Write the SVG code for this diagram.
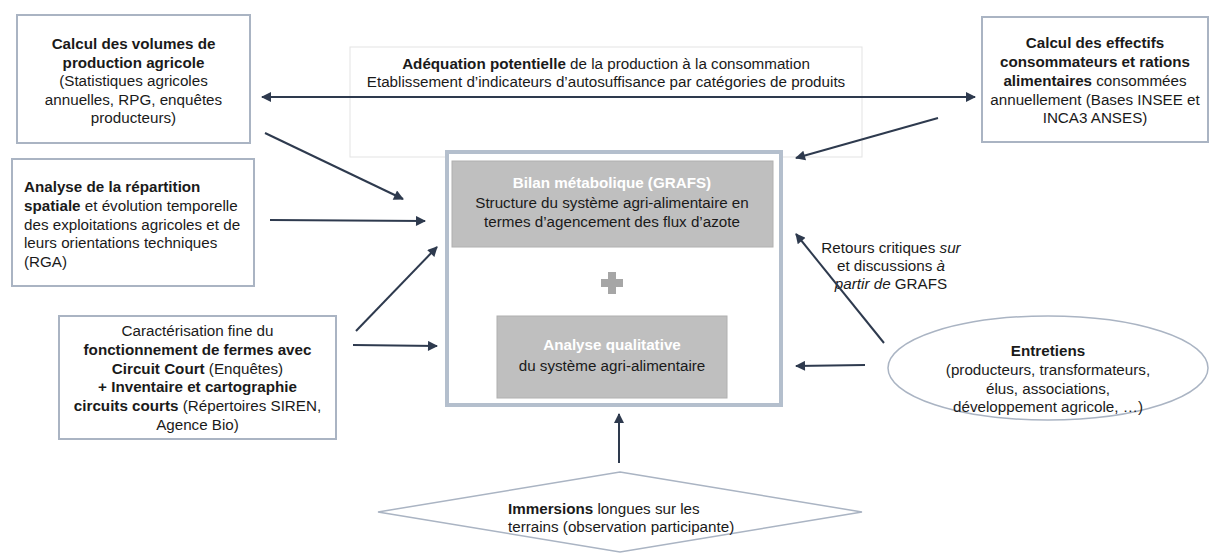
<svg xmlns="http://www.w3.org/2000/svg" width="1210" height="556" viewBox="0 0 1210 556">
<style>
text{font-family:"Liberation Sans",Arial,sans-serif;font-size:15.2px;fill:#1a1a1a}
.b{font-weight:bold}
.c{text-anchor:middle}
.w{fill:#ffffff;font-weight:bold}
.box{fill:#ffffff;stroke:#aab4c3;stroke-width:2}
.soft{fill:#ffffff;stroke:#e3e3e3;stroke-width:1}
.gray{fill:#bfbfbf;stroke:#b0b0b0;stroke-width:1}
.conn{stroke:#2e3a4e;stroke-width:2;fill:none;marker-end:url(#ah)}
</style>
<defs>
<marker id="ah" viewBox="0 0 10 10" refX="9" refY="5" markerWidth="6" markerHeight="5" orient="auto-start-reverse" markerUnits="strokeWidth">
<path d="M0,0 L10,5 L0,10 z" fill="#2e3a4e"/>
</marker>
</defs>
<rect width="1210" height="556" fill="#ffffff"/>

<g id="adequation">
<rect class="soft" x="350" y="47" width="512" height="110"/>
<text class="c" x="606" y="69"><tspan class="b">Adéquation potentielle</tspan> de la production à la consommation</text>
<text class="c" x="606" y="87">Etablissement d’indicateurs d’autosuffisance par catégories de produits</text>
</g>

<g id="volumes">
<rect class="box" x="17" y="15" width="233" height="128"/>
<text class="c b" x="133.5" y="49">Calcul des volumes de</text>
<text class="c b" x="133.5" y="67.5">production agricole</text>
<text class="c" x="133.5" y="86">(Statistiques agricoles</text>
<text class="c" x="133.5" y="104.5">annuelles, RPG, enquêtes</text>
<text class="c" x="133.5" y="123">producteurs)</text>
</g>

<g id="effectifs">
<rect class="box" x="982" y="17" width="226" height="125"/>
<text class="c b" x="1095" y="48">Calcul des effectifs</text>
<text class="c b" x="1095" y="67">consommateurs et rations</text>
<text class="c" x="1095" y="86"><tspan class="b">alimentaires</tspan> consommées</text>
<text class="c" x="1095" y="104.5">annuellement (Bases INSEE et</text>
<text class="c" x="1095" y="123">INCA3 ANSES)</text>
</g>

<g id="repartition">
<rect class="box" x="12" y="159" width="242" height="127"/>
<text class="b" x="24" y="192">Analyse de la répartition</text>
<text x="24" y="211"><tspan class="b">spatiale</tspan> et évolution temporelle</text>
<text x="24" y="229.5">des exploitations agricoles et de</text>
<text x="24" y="248">leurs orientations techniques</text>
<text x="24" y="267">(RGA)</text>
</g>

<g id="circuits">
<rect class="box" x="59" y="316" width="277" height="123"/>
<text class="c" x="197.5" y="336">Caractérisation fine du</text>
<text class="c b" x="197.5" y="355">fonctionnement de fermes avec</text>
<text class="c" x="197.5" y="373.5"><tspan class="b">Circuit Court</tspan> (Enquêtes)</text>
<text class="c b" x="197.5" y="392">+ Inventaire et cartographie</text>
<text class="c" x="197.5" y="411"><tspan class="b">circuits courts</tspan> (Répertoires SIREN,</text>
<text class="c" x="197.5" y="429.5">Agence Bio)</text>
</g>

<g id="centre">
<rect x="447" y="152" width="334" height="253" fill="#ffffff" stroke="#b4bfcd" stroke-width="4"/>
</g>

<g id="grafs">
<rect class="gray" x="452" y="161" width="321" height="86"/>
<text class="c w" x="612" y="188">Bilan métabolique (GRAFS)</text>
<text class="c" x="612" y="208">Structure du système agri-alimentaire en</text>
<text class="c" x="612" y="227">termes d’agencement des flux d’azote</text>
</g>

<g id="plus">
<rect x="601" y="279" width="22" height="8" fill="#a6a6a6"/>
<rect x="608" y="272" width="8" height="22" fill="#a6a6a6"/>
</g>

<g id="qualitative">
<rect class="gray" x="497" y="316" width="230" height="82"/>
<text class="c w" x="612" y="350">Analyse qualitative</text>
<text class="c" x="612" y="371">du système agri-alimentaire</text>
</g>

<g id="entretiens">
<ellipse cx="1048" cy="368" rx="160" ry="52" fill="#ffffff" stroke="#aab4c3" stroke-width="1.5"/>
<text class="c b" x="1048" y="356">Entretiens</text>
<text class="c" x="1048" y="375">(producteurs, transformateurs,</text>
<text class="c" x="1048" y="394">élus, associations,</text>
<text class="c" x="1048" y="412">développement agricole, …)</text>
</g>

<g id="immersions">
<polygon points="620,472 862,512 620,552 378,512" fill="#ffffff" stroke="#aab4c3" stroke-width="1.5"/>
<text x="508" y="514"><tspan class="b">Immersions</tspan> longues sur les</text>
<text x="508" y="532">terrains (observation participante)</text>
</g>

<g id="label-retours">
<text class="c" x="891" y="253">Retours critiques <tspan font-style="italic">sur</tspan></text>
<text class="c" x="891" y="271">et discussions <tspan font-style="italic">à</tspan></text>
<text class="c" x="891" y="289"><tspan font-style="italic">partir de</tspan> GRAFS</text>
</g>

<g id="connectors">
<line class="conn" x1="262" y1="97" x2="975" y2="97" style="marker-start:url(#ah)"/>
<line class="conn" x1="265" y1="133" x2="403" y2="199"/>
<line class="conn" x1="270" y1="220" x2="425" y2="221"/>
<line class="conn" x1="356" y1="331" x2="437" y2="247"/>
<line class="conn" x1="353" y1="345" x2="437" y2="346"/>
<line class="conn" x1="938" y1="118" x2="796" y2="158"/>
<line class="conn" x1="884" y1="343" x2="796" y2="234"/>
<line class="conn" x1="865" y1="365" x2="796" y2="366"/>
<line class="conn" x1="619" y1="463" x2="619" y2="414"/>
</g>
</svg>
